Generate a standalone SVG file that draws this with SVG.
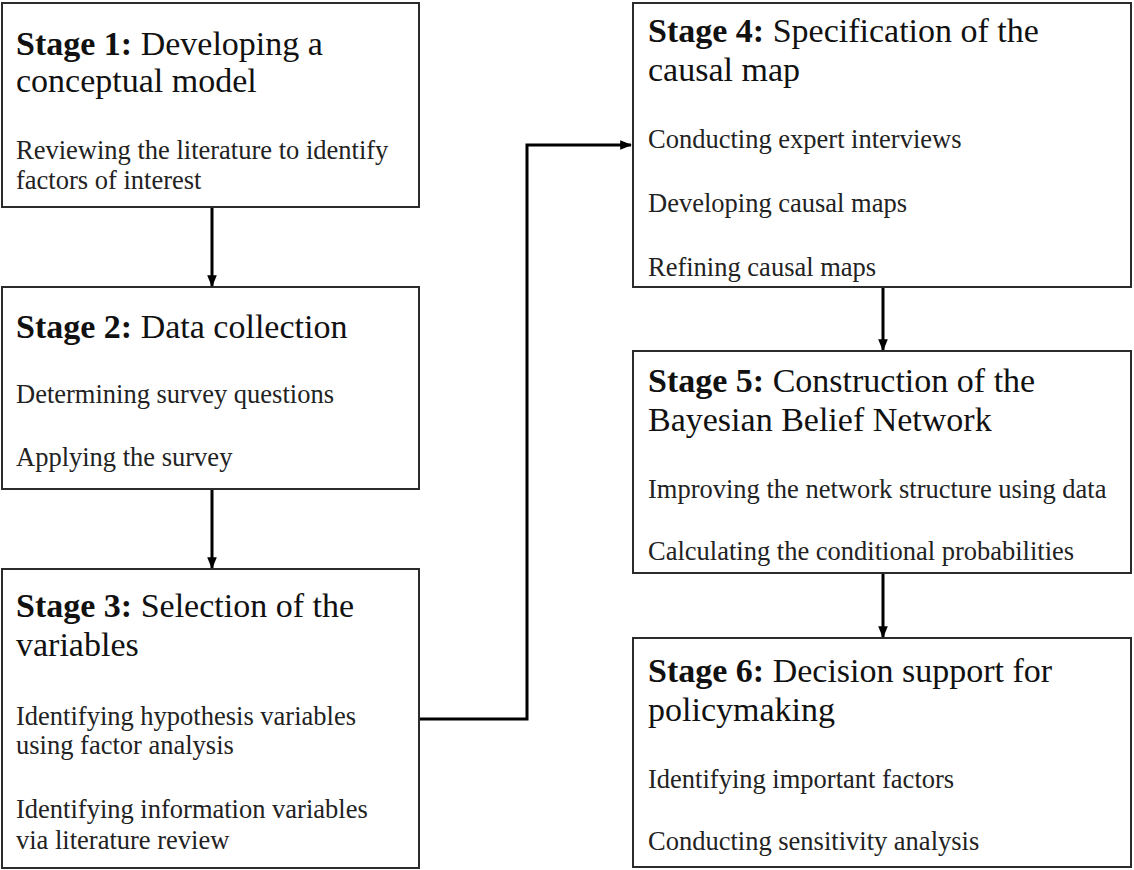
<svg xmlns="http://www.w3.org/2000/svg" width="1134" height="870" viewBox="0 0 1134 870">
  <style>
    .box { fill: #ffffff; stroke: #2b2b2b; stroke-width: 2; }
    .title { font-family: "Liberation Serif", "Times New Roman", serif; font-size: 34px; fill: #111; }
    .title .lbl { font-weight: bold; }
    .body { font-family: "Liberation Serif", "Times New Roman", serif; font-size: 26.5px; fill: #222; }
    .conn { fill: none; stroke: #000; stroke-width: 3; }
  </style>
  <defs>
    <marker id="arrow" viewBox="0 0 10 10" refX="9" refY="5" markerWidth="4" markerHeight="4" orient="auto" markerUnits="strokeWidth">
      <path d="M0,1 L10,5 L0,9 z" fill="#000"/>
    </marker>
  </defs>
  <rect width="1134" height="870" fill="#ffffff"/>

  <!-- connectors -->
  <g id="connectors">
    <path class="conn" d="M212,208 V286" marker-end="url(#arrow)"/>
    <path class="conn" d="M212,490 V568" marker-end="url(#arrow)"/>
    <path class="conn" d="M420,719 H527 V145 H631" marker-end="url(#arrow)"/>
    <path class="conn" d="M883,288 V350" marker-end="url(#arrow)"/>
    <path class="conn" d="M883,574 V637" marker-end="url(#arrow)"/>
  </g>

  <g id="stage1">
    <rect class="box" x="2" y="3" width="417" height="204"/>
    <text class="title" x="16" y="55"><tspan class="lbl">Stage 1:</tspan> Developing a</text>
    <text class="title" x="16" y="92">conceptual model</text>
    <text class="body" x="16" y="159">Reviewing the literature to identify</text>
    <text class="body" x="16" y="189">factors of interest</text>
  </g>

  <g id="stage2">
    <rect class="box" x="2" y="287" width="417" height="202"/>
    <text class="title" x="16" y="338"><tspan class="lbl">Stage 2:</tspan> Data collection</text>
    <text class="body" x="16" y="403">Determining survey questions</text>
    <text class="body" x="16" y="466">Applying the survey</text>
  </g>

  <g id="stage3">
    <rect class="box" x="2" y="569" width="417" height="299"/>
    <text class="title" x="16" y="617"><tspan class="lbl">Stage 3:</tspan> Selection of the</text>
    <text class="title" x="16" y="656">variables</text>
    <text class="body" x="16" y="725">Identifying hypothesis variables</text>
    <text class="body" x="16" y="754">using factor analysis</text>
    <text class="body" x="16" y="818">Identifying information variables</text>
    <text class="body" x="16" y="849">via literature review</text>
  </g>

  <g id="stage4">
    <rect class="box" x="633" y="3" width="498" height="284"/>
    <text class="title" x="648" y="42"><tspan class="lbl">Stage 4:</tspan> Specification of the</text>
    <text class="title" x="648" y="81">causal map</text>
    <text class="body" x="648" y="148">Conducting expert interviews</text>
    <text class="body" x="648" y="212">Developing causal maps</text>
    <text class="body" x="648" y="276">Refining causal maps</text>
  </g>

  <g id="stage5">
    <rect class="box" x="633" y="351" width="498" height="222"/>
    <text class="title" x="648" y="392"><tspan class="lbl">Stage 5:</tspan> Construction of the</text>
    <text class="title" x="648" y="431">Bayesian Belief Network</text>
    <text class="body" x="648" y="498">Improving the network structure using data</text>
    <text class="body" x="648" y="560">Calculating the conditional probabilities</text>
  </g>

  <g id="stage6">
    <rect class="box" x="633" y="638" width="498" height="229"/>
    <text class="title" x="648" y="682"><tspan class="lbl">Stage 6:</tspan> Decision support for</text>
    <text class="title" x="648" y="721">policymaking</text>
    <text class="body" x="648" y="788">Identifying important factors</text>
    <text class="body" x="648" y="850">Conducting sensitivity analysis</text>
  </g>
</svg>
